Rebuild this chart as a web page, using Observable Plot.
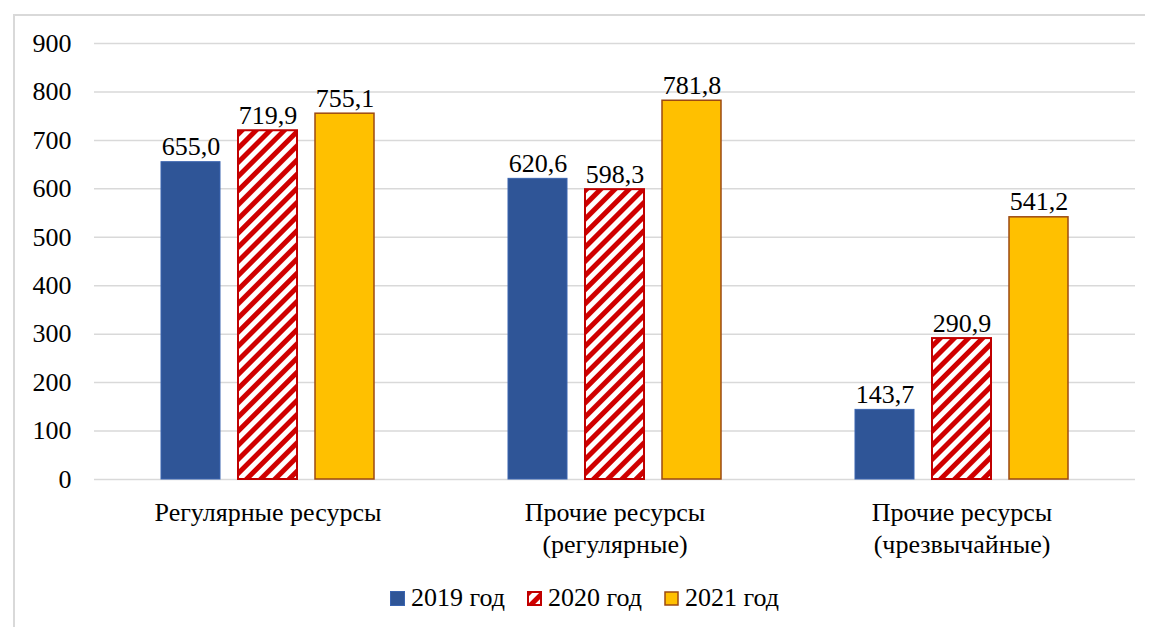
<!DOCTYPE html>
<html>
<head>
<meta charset="utf-8">
<script src="https://cdn.jsdelivr.net/npm/d3@7"></script>
<script src="https://cdn.jsdelivr.net/npm/@observablehq/plot@0.6"></script>
<style>
  body { margin: 0; }
  #frame { position: absolute; left: 13px; top: 14px; width: 1130px; height: 620px; border-left: 2px solid #d9d9d9; border-top: 2px solid #d9d9d9; }
  #chart { position: absolute; left: 0; top: 0; }
  #legend { position: absolute; left: 390px; top: 583px; height: 30px; display: flex; align-items: center; font-size: 26px; color: #000; white-space: nowrap; }
  .item { display: flex; align-items: center; margin-right: 22px; }
  .item svg { margin-right: 6px; }
</style>
</head>
<body style="font-family: 'Liberation Serif', serif;">
<div id="frame"></div>
<div id="chart"></div>
<div id="legend"></div>
<script>
const categories = ["Регулярные ресурсы", "Прочие ресурсы (регулярные)", "Прочие ресурсы (чрезвычайные)"];
const categoryLabels = ["Регулярные ресурсы", "Прочие ресурсы\n(регулярные)", "Прочие ресурсы\n(чрезвычайные)"];
const years = ["2019 год", "2020 год", "2021 год"];
const values2019 = [655.0, 620.6, 143.7];
const values2020 = [719.9, 598.3, 290.9];
const values2021 = [755.1, 781.8, 541.2];
const yTicks = [0, 100, 200, 300, 400, 500, 600, 700, 800, 900];

const series = [values2019, values2020, values2021];
const data = categories.flatMap((cat, i) => years.map((year, j) => ({cat, year, value: series[j][i]})));
const labelData = categories.map((cat, i) => ({cat, label: categoryLabels[i]}));

const styles = {
  "2019 год": {fill: "#2F5597", stroke: "#3A64B0", strokeWidth: 1},
  "2020 год": {fill: "url(#hatch)", stroke: "#C00000", strokeWidth: 2},
  "2021 год": {fill: "#FFC000", stroke: "#9C4A12", strokeWidth: 1.5}
};

const fmt = v => v.toFixed(1).replace(".", ",");
const FONT = "'Liberation Serif', serif";

const plot = Plot.plot({
  width: 1150,
  height: 570,
  marginLeft: 93,
  marginRight: 15,
  marginTop: 43,
  marginBottom: 91,
  style: {fontFamily: FONT, fontSize: "26px", background: "transparent", color: "#000"},
  fx: {domain: categories, padding: 0, axis: null, label: null},
  x: {domain: years, paddingInner: 0.21, paddingOuter: 0.857, axis: null, label: null},
  y: {domain: [0, 900], ticks: yTicks, tickSize: 0, tickPadding: 23, label: null},
  marks: [
    Plot.ruleY(yTicks, {stroke: "#d9d9d9", strokeWidth: 1.5}),
    ...years.map(yr => Plot.barY(data.filter(d => d.year === yr), {
      fx: "cat", x: "year", y: "value",
      fill: styles[yr].fill, stroke: styles[yr].stroke, strokeWidth: styles[yr].strokeWidth,
      insetLeft: 1, insetRight: 1
    })),
    Plot.text(data, {fx: "cat", x: "year", y: "value", text: d => fmt(d.value), lineAnchor: "bottom", dy: -7, fontSize: 26, fill: "#000"}),
    Plot.text(labelData, {fx: "cat", text: "label", frameAnchor: "bottom", lineAnchor: "top", dy: 19, lineHeight: 1.22, fontSize: 26, fill: "#000"})
  ]
});

const defs = `<defs>
  <pattern id="hatch" patternUnits="userSpaceOnUse" width="10" height="10" patternTransform="rotate(45)">
    <rect x="0" y="0" width="10" height="10" fill="#ffffff"/>
    <rect x="0" y="0" width="5" height="10" fill="#D00000"/>
  </pattern>
</defs>`;
plot.insertAdjacentHTML("afterbegin", defs);
document.getElementById("chart").appendChild(plot);

const legendSvg = {
  "2019 год": `<svg width="15" height="15"><rect x="0.5" y="0.5" width="14" height="14" fill="#2F5597" stroke="#3A64B0"/></svg>`,
  "2020 год": `<svg width="15" height="15"><defs><pattern id="hatchL" patternUnits="userSpaceOnUse" width="10" height="10" patternTransform="rotate(45)"><rect width="10" height="10" fill="#fff"/><rect width="5" height="10" fill="#D00000"/></pattern></defs><rect x="1" y="1" width="13" height="13" fill="url(#hatchL)" stroke="#C00000" stroke-width="2"/></svg>`,
  "2021 год": `<svg width="15" height="15"><rect x="1" y="1" width="13" height="13" fill="#FFC000" stroke="#9C4A12" stroke-width="1.5"/></svg>`
};
const legend = document.getElementById("legend");
years.forEach(yr => {
  const div = document.createElement("div");
  div.className = "item";
  div.innerHTML = legendSvg[yr] + `<span>${yr}</span>`;
  legend.appendChild(div);
});

// force serif font on every text node (inline, important)
document.querySelectorAll("#chart svg, #chart svg text, #chart svg g, #legend, #legend span").forEach(el => {
  el.style.setProperty("font-family", FONT, "important");
});
</script>
</body>
</html>
